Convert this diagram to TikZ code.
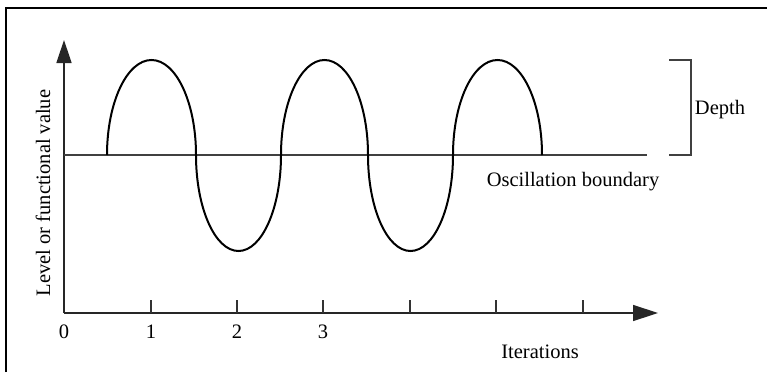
\documentclass[tikz,border=0pt]{standalone}
\usepackage{fontspec}
\setmainfont{Liberation Serif}
\usetikzlibrary{arrows.meta}
\begin{document}
\begin{tikzpicture}[x=1pt,y=-1pt,
  lbl/.style={font=\fontsize{20.5}{24}\selectfont, inner sep=0pt},
  axisline/.style={line width=1.4pt, black!85},
  wave/.style={line width=2pt, black},
  thinline/.style={line width=1.3pt, black!75},
  tickline/.style={line width=1.1pt, black!80}]
\useasboundingbox (0,0) rectangle (767,372);
% frame (left and top edges)
\draw[line width=2.2pt] (6,372) -- (6,8) -- (767,8);
% axes
\coordinate (O) at (64,313);
\coordinate (ytop) at (64,40);
\coordinate (xend) at (658,313);
\draw[axisline, -{Triangle[length=23pt,width=15pt]}] (O) -- (ytop);
\draw[axisline, -{Triangle[length=25pt,width=16pt]}] (O) -- (xend);
% ticks
\foreach \x/\n in {151/t1,237/t2,323/t3,410/t4,496/t5,583/t6}{
  \coordinate (\n a) at (\x,313);
  \coordinate (\n b) at (\x,300);
  \draw[tickline] (\n a) -- (\n b);
}
% boundary
\coordinate (bs) at (64,155);
\coordinate (be) at (647,155);
\draw[thinline] (bs) -- (be);
% bracket
\coordinate (k1) at (669,60);
\coordinate (k2) at (691,60);
\coordinate (k3) at (691,155);
\coordinate (k4) at (669,155);
\draw[thinline] (k1) -- (k2) -- (k3) -- (k4);
% wave
\coordinate (w0) at (107,155);
\coordinate (w1) at (196,155);
\coordinate (w2) at (281,155);
\coordinate (w3) at (368,155);
\coordinate (w4) at (453,155);
\coordinate (w5) at (542,155);
\draw[wave] (w0) arc[start angle=180, end angle=0, x radius=44.5, y radius=-95];
\draw[wave] (w1) arc[start angle=180, end angle=360, x radius=42.5, y radius=-96];
\draw[wave] (w2) arc[start angle=180, end angle=0, x radius=43.5, y radius=-95];
\draw[wave] (w3) arc[start angle=180, end angle=360, x radius=42.5, y radius=-96];
\draw[wave] (w4) arc[start angle=180, end angle=0, x radius=44.5, y radius=-95];
% labels
\node[lbl] (l0) at (64,332) {0};
\node[lbl] (l1) at (151,332) {1};
\node[lbl] (l2) at (237,332) {2};
\node[lbl] (l3) at (323,332) {3};
\node[lbl] (iter) at (540,352) {Iterations};
\node[lbl] (osc) at (573,182) {Oscillation boundary};
\node[lbl] (depth) at (720,110) {Depth};
\node[lbl, rotate=90] (ylab) at (43,193) {Level or functional value};
\end{tikzpicture}
\end{document}
